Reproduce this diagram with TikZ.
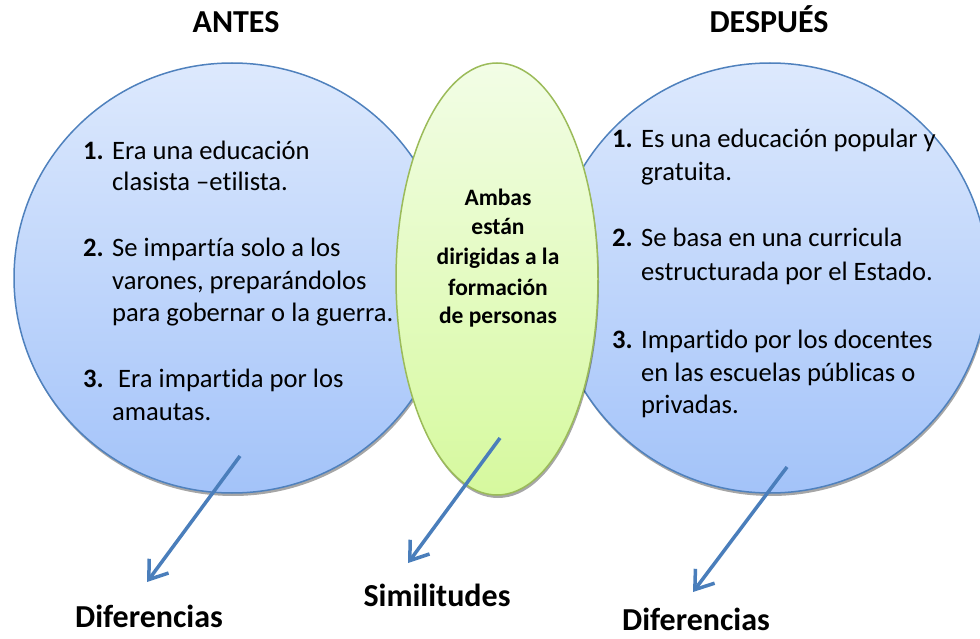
\documentclass[tikz,border=0pt]{standalone}
\usepackage{fontspec}
\setmainfont{Carlito}[Ligatures={NoCommon,NoRequired,NoContextual}]
\usetikzlibrary{shapes.geometric,shadows,arrows.meta}
\definecolor{cblue}{HTML}{4F81BD}
\definecolor{ctop}{HTML}{DDE9FD}
\definecolor{cbot}{HTML}{A3C3F9}
\definecolor{gtop}{HTML}{F2FDE6}
\definecolor{gbot}{HTML}{D6F99E}
\definecolor{gline}{HTML}{9BBB59}
\definecolor{arr}{HTML}{4A7EBB}
\tikzset{
  bigcircle/.style={ellipse, draw=cblue, line width=1.5pt, top color=ctop, bottom color=cbot,
    minimum width=436pt, minimum height=430pt, inner sep=0pt,
    drop shadow={shadow xshift=1pt, shadow yshift=-3pt, fill=black, opacity=.35}},
  midoval/.style={ellipse, draw=gline, line width=1.5pt, top color=gtop, bottom color=gbot,
    minimum width=202pt, minimum height=432pt, inner sep=0pt,
    drop shadow={shadow xshift=1pt, shadow yshift=-3pt, fill=black, opacity=.35}},
  bodytxt/.style={anchor=base west, inner sep=0pt, font=\fontsize{26.6}{31}\selectfont},
  numtxt/.style={anchor=base west, inner sep=0pt, font=\fontsize{26.6}{31}\selectfont\bfseries},
  midtxt/.style={anchor=base, inner sep=0pt, font=\fontsize{23.5}{29}\selectfont\bfseries},
  bigtxt/.style={anchor=base, inner sep=0pt, font=\fontsize{32}{38}\selectfont\bfseries},
  pointer/.style={draw=arr, line width=3.5pt, -{Straight Barb[length=17pt,width=24pt]}}
}
\begin{document}
\begin{tikzpicture}[x=1pt,y=-1pt]
\useasboundingbox (0,0) rectangle (980,639);
% circles
\node[bigcircle] (L) at (232,278) {};
\node[bigcircle] (R) at (770,278) {};
\node[midoval] (M) at (497,279) {};
% titles
\node[bigtxt] (tA) at (236,33) {ANTES};
\node[bigtxt] (tD) at (769,33) {DESPUÉS};
% left items
\node[numtxt] (ln1) at (83,160) {1.};
\node[bodytxt] (l1a) at (112,160) {Era una educación};
\node[bodytxt] (l1b) at (112,191) {clasista –etilista.};
\node[numtxt] (ln2) at (83,257) {2.};
\node[bodytxt] (l2a) at (112,257) {Se impartía solo a los};
\node[bodytxt] (l2b) at (112,289) {varones, preparándolos};
\node[bodytxt] (l2c) at (112,321) {para gobernar o la guerra.};
\node[numtxt] (ln3) at (83,387) {3.};
\node[bodytxt] (l3a) at (118,387) {Era impartida por los};
\node[bodytxt] (l3b) at (112,420) {amautas.};
% right items
\node[numtxt] (rn1) at (612,148) {1.};
\node[bodytxt] (r1a) at (641,148) {Es una educación popular y};
\node[bodytxt] (r1b) at (641,181) {gratuita.};
\node[numtxt] (rn2) at (612,247) {2.};
\node[bodytxt] (r2a) at (641,247) {Se basa en una curricula};
\node[bodytxt] (r2b) at (641,280) {estructurada por el Estado.};
\node[numtxt] (rn3) at (612,348) {3.};
\node[bodytxt] (r3a) at (641,348) {Impartido por los docentes};
\node[bodytxt] (r3b) at (641,381) {en las escuelas públicas o};
\node[bodytxt] (r3c) at (641,413) {privadas.};
% middle text
\node[midtxt] (m1) at (498,206) {Ambas};
\node[midtxt] (m2) at (498,235) {están};
\node[midtxt] (m3) at (498,265) {dirigidas a la};
\node[midtxt] (m4) at (498,295) {formación};
\node[midtxt] (m5) at (498,323) {de personas};
% labels
\node[bigtxt] (dL) at (149,627) {Diferencias};
\node[bigtxt] (sM) at (437,606) {Similitudes};
\node[bigtxt] (dR) at (696,630) {Diferencias};
% arrows
\coordinate (aLs) at (240,456);
\coordinate (aLe) at (147,582);
\coordinate (aMs) at (500,438);
\coordinate (aMe) at (408,563);
\coordinate (aRs) at (787,467);
\coordinate (aRe) at (693,592);
\draw[pointer] (aLs) -- (aLe);
\draw[pointer] (aMs) -- (aMe);
\draw[pointer] (aRs) -- (aRe);
\end{tikzpicture}
\end{document}
